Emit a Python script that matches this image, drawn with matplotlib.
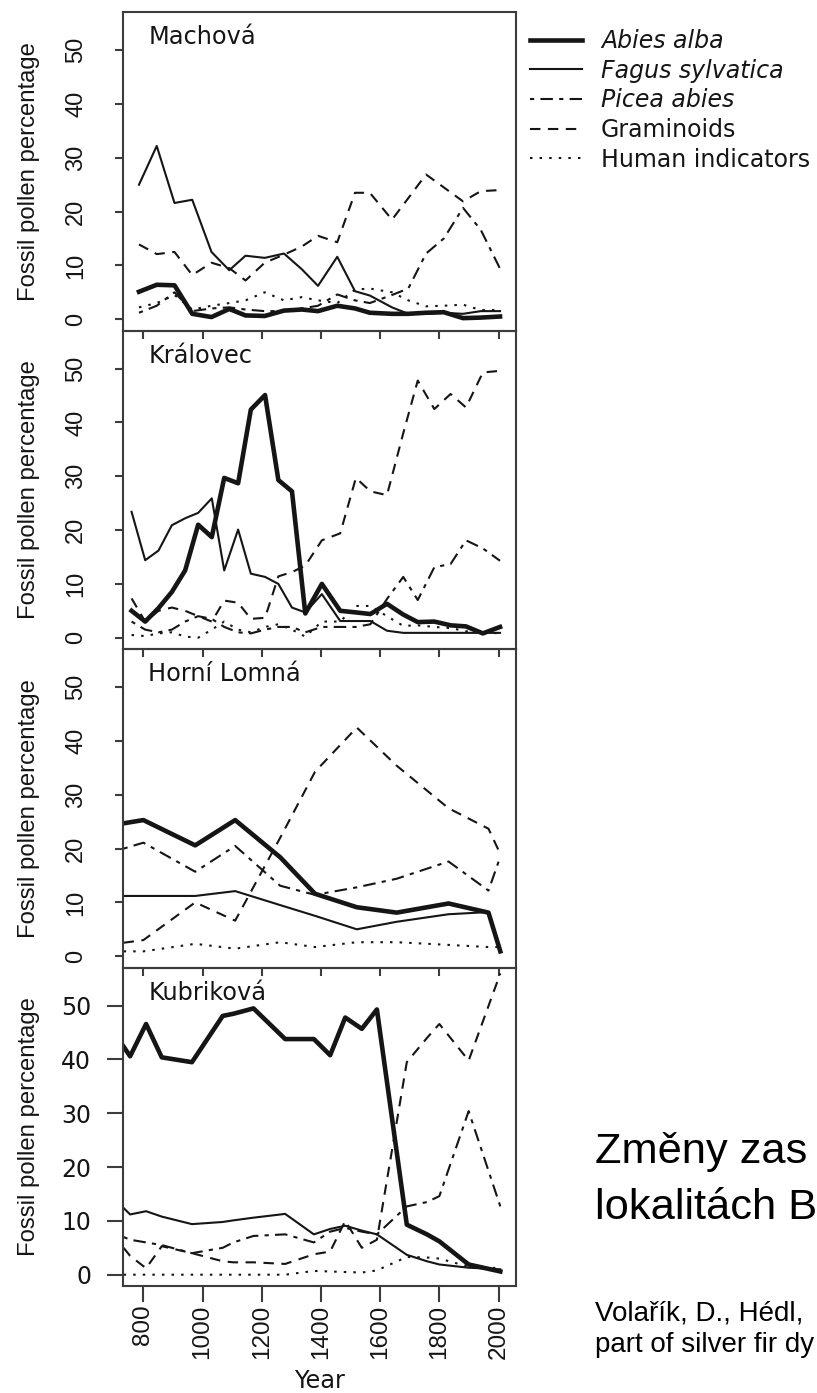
import matplotlib
matplotlib.use('Agg')
import matplotlib.pyplot as plt

plt.rcParams['font.family'] = ['Liberation Sans', 'DejaVu Sans']

sites = ['Machová', 'Královec', 'Horní Lomná', 'Kubriková']
taxa = ['Abies alba', 'Fagus sylvatica', 'Picea abies', 'Graminoids', 'Human indicators']
year_ticks = [800, 1000, 1200, 1400, 1600, 1800, 2000]
pct_ticks = [0, 10, 20, 30, 40, 50]

# Machová
machova_years = [785, 845, 905, 965, 1030, 1090, 1145, 1210, 1275, 1335, 1390,
                 1455, 1515, 1565, 1640, 1695, 1755, 1815, 1880, 1940, 2005]
machova_abies = [5.1, 6.4, 6.3, 1.0, 0.4, 1.9, 0.7, 0.6, 1.6, 1.8, 1.5,
                 2.5, 2.0, 1.2, 1.0, 1.0, 1.2, 1.3, 0.2, 0.3, 0.5]
machova_fagus = [25.0, 32.2, 21.6, 22.2, 12.5, 9.1, 11.8, 11.4, 12.2, 9.3, 6.2,
                 11.6, 5.2, 4.4, 2.2, 1.0, 1.0, 1.2, 1.0, 1.5, 1.5]
machova_picea = [1.2, 2.5, 5.0, 1.5, 2.0, 2.2, 1.8, 1.5, 1.5, 2.0, 2.5,
                 4.6, 3.5, 3.0, 4.5, 5.7, 12.2, 15.0, 20.7, 16.6, 9.4]
machova_gram = [13.9, 12.1, 12.5, 8.2, 10.5, 9.5, 7.2, 10.5, 12.0, 13.5, 15.5,
                14.3, 23.5, 23.5, 18.5, 22.5, 26.9, 24.5, 21.9, 23.8, 24.0]
machova_human = [2.2, 3.0, 4.5, 1.8, 2.5, 3.0, 3.5, 5.0, 3.5, 4.1, 3.5,
                 3.0, 5.5, 5.7, 5.0, 3.5, 2.4, 2.5, 2.7, 1.7, 1.7]

# Královec
kralovec_years = [760, 806, 851, 896, 941, 985, 1031, 1073, 1120, 1163, 1211, 1256, 1302,
                  1347, 1403, 1465, 1518, 1567, 1623, 1678, 1727, 1783, 1838, 1890, 1947, 2005]
kralovec_abies = [5.0, 3.0, 5.5, 8.5, 12.5, 21.0, 18.7, 29.7, 28.7, 42.4, 45.1, 29.3, 27.2,
                  4.5, 10.0, 5.0, 4.7, 4.4, 6.3, 4.3, 2.9, 3.0, 2.3, 2.1, 0.8, 2.0]
kralovec_fagus = [23.4, 14.4, 16.2, 20.9, 22.2, 23.2, 25.9, 12.5, 20.1, 11.9, 11.3, 10.0, 5.6,
                  4.7, 8.1, 3.1, 3.1, 3.1, 1.3, 0.9, 0.9, 0.9, 0.9, 0.9, 0.9, 0.9]
kralovec_picea = [3.0, 1.5, 1.0, 1.5, 3.0, 4.0, 3.5, 2.0, 1.0, 0.8, 1.5, 2.0, 2.0,
                  1.0, 2.0, 2.0, 2.0, 2.5, 7.2, 11.3, 7.0, 13.1, 13.7, 18.1, 16.6, 14.3]
kralovec_gram = [7.3, 3.0, 5.0, 5.6, 5.0, 4.0, 3.0, 6.9, 6.5, 3.5, 3.7, 11.4, 12.2,
                 13.4, 18.1, 19.4, 29.7, 27.2, 26.5, 38.0, 47.8, 42.5, 45.3, 42.8, 49.3, 49.6]
kralovec_human = [0.5, 0.3, 0.8, 1.0, 0.2, 0.0, 1.5, 3.0, 1.5, 1.0, 2.0, 2.5, 1.5,
                  0.2, 3.0, 3.0, 5.9, 5.9, 4.0, 2.2, 2.3, 2.0, 1.8, 1.2, 1.0, 0.8]

# Horní Lomná
lomna_years = [733, 800, 975, 1110, 1262, 1380, 1521, 1656, 1831, 1966, 2006]
lomna_abies = [24.7, 25.3, 20.6, 25.3, 18.4, 11.6, 9.1, 8.1, 9.8, 8.1, 0.9]
lomna_fagus = [11.2, 11.2, 11.2, 12.1, 9.5, 7.5, 5.0, 6.4, 7.8, 8.2, 1.0]
lomna_picea = [20.0, 21.1, 15.7, 20.5, 13.1, 11.4, 12.8, 14.4, 17.6, 12.2, 18.5]
lomna_gram = [2.5, 3.0, 10.0, 6.6, 22.0, 34.3, 42.5, 35.4, 27.5, 23.7, 19.0]
lomna_human = [0.9, 0.9, 2.3, 1.4, 2.6, 1.7, 2.6, 2.6, 2.1, 1.7, 1.7]

# Kubriková
kubrikova_years = [733, 755, 809, 862, 964, 1068, 1104, 1172, 1279, 1376,
                   1431, 1482, 1538, 1589, 1690, 1758, 1800, 1899, 2006]
kubrikova_abies = [42.4, 40.6, 46.6, 40.4, 39.5, 48.1, 48.5, 49.5, 43.8, 43.8,
                   40.8, 47.8, 45.7, 49.3, 9.3, 7.5, 6.2, 1.9, 0.6]
kubrikova_fagus = [12.4, 11.2, 11.8, 10.8, 9.4, 9.8, 10.1, 10.6, 11.3, 7.5,
                   8.5, 9.1, 8.2, 7.5, 3.7, 2.5, 1.9, 1.3, 1.0]
kubrikova_picea = [7.0, 6.5, 6.0, 5.5, 4.0, 5.0, 6.0, 7.2, 7.5, 6.0,
                   8.0, 8.7, 8.0, 7.5, 12.7, 13.5, 14.6, 30.4, 12.7]
kubrikova_gram = [5.0, 3.5, 1.2, 5.3, 4.0, 2.5, 2.3, 2.3, 2.0, 3.8,
                  4.3, 10.0, 5.0, 6.5, 39.5, 44.0, 46.6, 39.8, 56.0]
kubrikova_human = [0.0, 0.0, 0.0, 0.0, 0.0, 0.0, 0.0, 0.0, 0.0, 0.7,
                   0.6, 0.5, 0.4, 0.8, 3.3, 3.2, 3.0, 1.5, 1.2]

panels = [
    (machova_years, [machova_abies, machova_fagus, machova_picea, machova_gram, machova_human]),
    (kralovec_years, [kralovec_abies, kralovec_fagus, kralovec_picea, kralovec_gram, kralovec_human]),
    (lomna_years, [lomna_abies, lomna_fagus, lomna_picea, lomna_gram, lomna_human]),
    (kubrikova_years, [kubrikova_abies, kubrikova_fagus, kubrikova_picea, kubrikova_gram, kubrikova_human]),
]

# R-like line types: thick solid, solid, dotdash, dashed, dotted
styles = [
    dict(lw=3.3, ls='-'),
    dict(lw=1.5, ls='-'),
    dict(lw=1.5, ls=(0, (2, 3, 6, 3))),
    dict(lw=1.5, ls=(0, (5, 3.6))),
    dict(lw=1.5, ls=(0, (1.2, 3.4))),
]

ink = '#151515'
frame = '#3c3c3c'
wide = ['DejaVu Sans']
narrow = ['Liberation Sans', 'DejaVu Sans']

W, H = 817.0, 1393.0
x0, x1 = 123.0, 516.0
top0, ph = 12.0, 318.5

fig = plt.figure(figsize=(W / 100, H / 100), dpi=100)

axes = []
for i, (site, (years, series)) in enumerate(zip(sites, panels)):
    top = top0 + i * ph
    ax = fig.add_axes([x0 / W, 1 - (top + ph) / H, (x1 - x0) / W, ph / H])
    ax.patch.set_visible(False)
    for vals, label, st in zip(series, taxa, styles):
        ax.plot(years, vals, color=ink, label=label,
                solid_joinstyle='round', dash_joinstyle='round', **st)
    ax.set_xlim(731, 2059)
    ax.set_ylim(-2.1, 57.1)
    ax.set_xticks(year_ticks)
    ax.set_yticks(pct_ticks)
    for s in ax.spines.values():
        s.set_linewidth(1.5)
        s.set_color(frame)

    ax.text(0.064, 0.8995, site, transform=ax.transAxes, fontsize=17.3,
            family=wide, color=ink, va='baseline')
    ax.set_ylabel('Fossil pollen percentage', fontsize=17.2, color=ink, family=narrow)
    ax.yaxis.set_label_coords(-0.211, 0.5)

    if i < 3:
        ax.tick_params(axis='y', direction='out', length=5.8, width=1.5, color=frame,
                       pad=20.0, labelsize=17, labelcolor=ink, labelrotation=90)
        ax.tick_params(axis='x', direction='out', length=5.8, width=1.5, color=frame,
                       labelbottom=False)
        for lbl in ax.get_yticklabels():
            lbl.set_va('center')
            lbl.set_family(narrow)
    else:
        ax.tick_params(axis='y', direction='out', length=11.5, width=1.5, color=frame,
                       pad=11.5, labelsize=17, labelcolor=ink)
        ax.tick_params(axis='x', direction='out', length=11.5, width=1.5, color=frame,
                       pad=2, labelsize=17.5, labelcolor=ink, labelrotation=90)
        for lbl in ax.get_yticklabels():
            lbl.set_family(wide)
        for lbl in ax.get_xticklabels():
            lbl.set_family(narrow)
        ax.set_xlabel('Year', fontsize=17.3, family=wide, color=ink, labelpad=7)
    axes.append(ax)

leg = axes[0].legend(loc='upper left', bbox_to_anchor=(1.0356, 0.947), frameon=False,
                     prop={'family': wide, 'size': 17}, handlelength=2.2,
                     handletextpad=0.8, labelspacing=0.24, borderpad=0, borderaxespad=0)
for t in leg.get_texts():
    t.set_color(ink)
for t in leg.get_texts()[:3]:
    t.set_fontstyle('italic')

# slide caption beside the figure, running up to the page edge
fig.text(595 / W, 1 - 1163 / H, 'Změny zas', fontsize=31.2,
         family=narrow, color='black', va='baseline')
fig.text(595 / W, 1 - 1219 / H, 'lokalitách B', fontsize=31.2,
         family=narrow, color='black', va='baseline')
fig.text(595 / W, 1 - 1320 / H, 'Volařík, D., Hédl,', fontsize=20,
         family=narrow, color='black', va='baseline')
fig.text(595 / W, 1 - 1352 / H, 'part of silver fir dy', fontsize=20,
         family=narrow, color='black', va='baseline')

fig.savefig('out.png', dpi=100, facecolor='white')
